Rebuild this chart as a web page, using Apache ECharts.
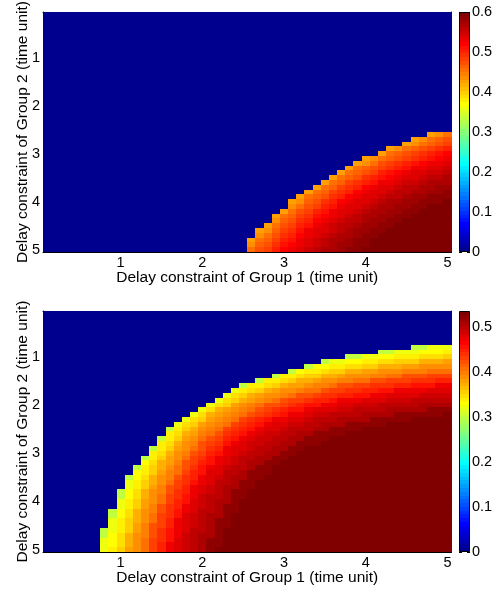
<!DOCTYPE html>
<html><head><meta charset="utf-8">
<script src="https://cdn.jsdelivr.net/npm/echarts@6/dist/echarts.min.js"></script>
<style>html,body{margin:0;padding:0;background:#fff}#c{width:501px;height:592px}</style>
</head><body><div id="c"></div>
<script>
// ---------- data ----------
const cellCenters = [0.1,0.2,0.3,0.4,0.5,0.6,0.7,0.8,0.9,1.0,1.1,1.2,1.3,1.4,1.5,1.6,1.7,1.8,1.9,2.0,2.1,2.2,2.3,2.4,2.5,2.6,2.7,2.8,2.9,3.0,3.1,3.2,3.3,3.4,3.5,3.6,3.7,3.8,3.9,4.0,4.1,4.2,4.3,4.4,4.5,4.6,4.7,4.8,4.9,5.0];
const xTickLabels = [1,2,3,4,5];
const yTickLabels = [1,2,3,4,5];
const xTitle = 'Delay constraint of Group 1 (time unit)';
const yTitle = 'Delay constraint of Group 2 (time unit)';
const cbTicks1 = [0,0.1,0.2,0.3,0.4,0.5,0.6];
const cbMax1 = 0.6;
const cbTicks2 = [0,0.1,0.2,0.3,0.4,0.5];
const cbMax2 = 0.536;

// Chart 1: rows (Group-2 delay), first non-zero cell (Group-1 delay), values in hundredths
// from that cell rightwards; the last listed value holds to the right edge. Cells left are 0.
const rowY1 = [2.6,2.7,2.8,2.9,3.0,3.1,3.2,3.3,3.4,3.5,3.6,3.7,3.8,3.9,4.0,4.1,4.2,4.3,4.4,4.5,4.6,4.7,4.8,4.9,5.0];
const startX1 = [4.8,4.6,4.5,4.3,4.2,4.0,3.9,3.8,3.7,3.6,3.5,3.4,3.3,3.2,3.1,3.1,3.0,2.9,2.9,2.8,2.7,2.7,2.6,2.6,2.6];
const vals1 = [
[43,44,45],
[43,44,45,46,47],
[43,44,45,46,47,48],
[43,44,45,46,47,48,49,50],
[43,45,46,47,48,49,50,51,52],
[43,44,45,46,47,48,49,50,51,52,53],
[43,44,45,47,48,49,50,51,52,53,53,54],
[43,45,46,47,48,49,50,51,53,53,54,54,55],
[43,45,46,47,48,50,51,52,53,54,54,55,55,56],
[43,45,46,47,49,50,51,52,53,54,54,55,56,56,57],
[43,45,46,48,49,50,51,53,53,54,55,55,56,57,57,57],
[43,45,46,48,49,50,52,53,54,54,55,56,56,57,57,58,58],
[43,45,46,48,49,50,52,53,54,54,55,56,56,57,57,58,58,59],
[43,45,46,47,49,50,52,53,54,54,55,56,56,57,58,58,59,59,59],
[43,44,46,47,49,50,52,53,54,54,55,56,57,57,58,58,59,59,59,60],
[44,45,47,48,50,51,53,54,54,55,56,57,57,58,58,59,59,60],
[43,45,47,48,50,51,53,54,54,55,56,57,57,58,58,59,59,60],
[43,45,46,48,49,51,52,53,54,55,56,57,57,58,58,59,59,60],
[44,46,47,49,50,52,53,54,55,56,56,57,58,58,59,59,60],
[43,45,47,48,50,51,53,54,55,56,56,57,58,58,59,59,60],
[43,44,46,48,49,51,53,54,54,55,56,57,58,58,59,59,60],
[44,45,47,49,50,52,53,54,55,56,57,57,58,59,59,60],
[43,45,46,48,50,51,53,54,55,56,57,57,58,59,59,60],
[44,46,47,49,51,52,53,54,55,56,57,58,58,59,59,60],
[45,47,48,50,52,53,54,55,56,57,57,58,59,59,60]
];

// Chart 2
const rowY2 = [0.8,0.9,1.0,1.1,1.2,1.3,1.4,1.5,1.6,1.7,1.8,1.9,2.0,2.1,2.2,2.3,2.4,2.5,2.6,2.7,2.8,2.9,3.0,3.1,3.2,3.3,3.4,3.5,3.6,3.7,3.8,3.9,4.0,4.1,4.2,4.3,4.4,4.5,4.6,4.7,4.8,4.9,5.0];
const startX2 = [4.6,4.2,3.8,3.5,3.3,3.1,2.9,2.7,2.5,2.4,2.3,2.2,2.1,2.0,1.9,1.8,1.7,1.6,1.6,1.5,1.5,1.4,1.4,1.3,1.3,1.2,1.2,1.1,1.1,1.1,1.0,1.0,1.0,1.0,0.9,0.9,0.9,0.9,0.8,0.8,0.8,0.8,0.8];
const vals2 = [
[30,30,32,32,32],
[30,30,32,32,32,33,33,33,34],
[30,30,32,32,33,33,34,34,34,35,35,35,36],
[30,32,32,33,33,34,34,35,35,36,36,36,37,37,37,38],
[30,33,33,34,34,35,35,36,36,37,37,37,38,38,39,39,39,39],
[30,33,34,34,35,36,36,37,37,38,38,39,39,39,40,40,40,41,41,41],
[30,34,34,35,36,36,37,37,38,39,39,39,40,40,41,41,42,42,42,43,43,43],
[30,34,34,35,36,37,37,38,39,39,40,40,41,41,42,42,43,43,43,44,44,44,45,45],
[30,34,34,35,36,37,38,38,39,40,40,41,42,42,43,43,44,44,44,45,45,46,46,46,47,47],
[32,34,35,36,37,38,39,39,40,41,41,42,43,43,44,44,45,45,46,46,47,47,47,47,48,48,48],
[32,35,36,37,38,39,39,40,41,42,42,43,44,44,45,45,46,46,47,47,48,48,48,48,49,49,49,49],
[32,35,36,37,38,39,40,41,42,43,43,44,45,45,46,47,47,47,48,48,48,49,49,49,50,50,50,50,50],
[32,35,36,38,39,40,41,42,42,43,44,45,46,46,47,47,48,48,49,49,49,50,50,50,50,50,51,51,51,51],
[32,35,37,38,39,40,41,42,43,44,45,46,46,47,48,48,48,49,49,50,50,50,50,51,51,51,51,51,52,52,52],
[32,35,37,38,39,40,41,42,43,44,45,46,47,47,48,49,49,50,50,50,50,51,51,51,51,52,52,52,52,52,52,53],
[32,35,36,38,39,40,41,43,44,45,46,47,47,48,48,49,50,50,50,51,51,51,51,52,52,52,52,52,53,53,53,53,53],
[32,35,36,38,39,40,41,43,44,45,46,47,48,48,49,49,50,50,51,51,51,52,52,52,52,52,53,53,53,53,53,53,54,54],
[30,34,36,37,39,40,41,43,44,45,46,47,48,48,49,50,50,50,51,51,52,52,52,52,53,53,53,53,53,54],
[34,35,37,38,40,41,42,44,45,46,47,48,49,49,50,50,51,51,52,52,52,52,53,53,53,53,53,54],
[30,34,36,38,39,41,42,43,45,46,47,48,49,49,50,50,51,51,52,52,52,53,53,53,53,54],
[34,35,37,39,40,42,43,44,46,47,48,49,49,50,50,51,51,52,52,52,53,53,53,54],
[30,34,36,38,39,41,42,44,45,47,48,48,49,50,50,51,51,52,52,53,53,53,53,54],
[34,35,37,39,40,42,43,45,46,47,48,49,50,50,51,51,52,52,53,53,53,54],
[30,34,36,38,39,41,43,44,46,47,48,49,50,50,51,51,52,52,53,53,53,54],
[33,35,37,38,40,42,43,45,46,47,48,49,50,51,51,52,52,53,53,53,54],
[30,34,36,37,39,41,42,44,46,47,48,49,50,50,51,52,52,53,53,53,54],
[33,34,36,38,40,41,43,45,46,48,48,50,50,51,52,52,52,53,53,54],
[30,33,35,37,39,40,42,44,45,47,48,49,50,51,51,52,52,53,53,54],
[32,34,36,37,39,41,43,44,46,47,48,50,50,51,52,52,53,53,53,54],
[32,34,36,38,40,42,43,45,47,48,49,50,51,51,52,52,53,53,54],
[30,33,35,37,39,40,42,44,45,47,48,49,50,51,52,52,53,53,54],
[30,33,35,37,39,41,43,44,46,47,49,50,50,51,52,52,53,53,54],
[32,34,36,38,39,41,43,45,46,48,49,50,51,51,52,53,53,54],
[32,34,36,38,40,42,44,45,47,48,49,50,51,52,52,53,53,54],
[30,33,35,37,39,40,42,44,46,47,48,50,50,51,52,52,53,53,54],
[30,33,35,37,39,41,43,44,46,48,49,50,51,51,52,53,53,54],
[32,34,36,37,39,41,43,45,47,48,49,50,51,52,52,53,53,54],
[32,34,36,38,40,42,43,45,47,48,49,50,51,52,52,53,54],
[30,32,34,36,38,40,42,44,46,47,48,50,50,51,52,53,53,54],
[30,33,35,37,39,40,42,44,46,47,49,50,51,51,52,53,53,54],
[32,33,35,37,39,41,43,44,46,48,49,50,51,52,52,53,53,54],
[32,33,35,37,39,41,43,45,47,48,49,50,51,52,52,53,54],
[32,34,36,38,39,41,43,45,47,48,49,50,51,52,53,53,54]
];

// ---------- build ----------
const FONT = 'Liberation Sans, Arial, Helvetica, sans-serif';
const near = (a, b) => Math.abs(a - b) < 1e-6;
function buildCells(rowY, startX, vals) {
  const data = [];
  for (let yi = 0; yi < cellCenters.length; yi++) {
    const k = rowY.findIndex(y => near(y, cellCenters[yi]));
    for (let xi = 0; xi < cellCenters.length; xi++) {
      let v = 0;
      if (k >= 0) {
        const s = cellCenters.findIndex(c => near(c, startX[k]));
        if (xi >= s) { const row = vals[k]; v = row[Math.min(xi - s, row.length - 1)] / 100; }
      }
      data.push([xi, yi, v]);
    }
  }
  return data;
}
function jet64() {
  const m = 64, n = 16, u = [];
  for (let i = 1; i <= n; i++) u.push(i / n);
  for (let i = 0; i < n - 1; i++) u.push(1);
  for (let i = n; i >= 1; i--) u.push(i / n);
  const J = Array.from({length: m}, () => [0, 0, 0]);
  for (let k = 1; k <= u.length; k++) {
    const g = 8 + k, r = g + n, b = g - n;
    if (g >= 1 && g <= m) J[g - 1][1] = u[k - 1];
    if (r >= 1 && r <= m) J[r - 1][0] = u[k - 1];
    if (b >= 1 && b <= m) J[b - 1][2] = u[k - 1];
  }
  return J.map(c => 'rgb(' + c.map(x => Math.round(x * 255)).join(',') + ')');
}
const JET = jet64();
function pieces(cmax) {
  const w = cmax / 64;
  return JET.map((c, i) => {
    const p = {color: c};
    if (i > 0) p.gte = i * w;
    if (i < 63) p.lt = (i + 1) * w;
    return p;
  });
}
function cbGradient() {
  const stops = [];
  JET.forEach((c, i) => { stops.push({offset: i / 64, color: c}); stops.push({offset: (i + 1) / 64, color: c}); });
  return new echarts.graphic.LinearGradient(0, 1, 0, 0, stops);
}
function renderCell(params, api) {
  const c = api.coord([api.value(0), api.value(1)]);
  const s = api.size([1, 1]);
  const x0 = Math.round(c[0] - s[0] / 2), x1 = Math.round(c[0] + s[0] / 2);
  const y0 = Math.round(c[1] - s[1] / 2), y1 = Math.round(c[1] + s[1] / 2);
  return {type: 'rect', shape: {x: x0, y: y0, width: x1 - x0, height: y1 - y0},
    style: {fill: api.visual('color'), stroke: null}};
}

const grid = [], xAxis = [], yAxis = [], series = [], visualMap = [];
const cats = cellCenters.map(v => v.toFixed(1));
const isX = (i, v) => xTickLabels.some(t => near(t, Number(v)));
const isY = (i, v) => yTickLabels.some(t => near(t, Number(v)));
const lbl = {fontSize: 14.5, color: '#000', fontFamily: FONT};
const nameStyle = {fontSize: 15.5, color: '#000', fontFamily: FONT};
const line = {show: true, onZero: false, lineStyle: {color: '#000', width: 1}};

function panel(top, height, data, cmax, cbTicks) {
  const gi = grid.length;
  grid.push({left: 43, top: top, width: 408.5, height: height, containLabel: false, outerBoundsMode: 'none'});
  grid.push({left: 459, top: top, width: 11, height: height, containLabel: false, outerBoundsMode: 'none'});
  const xa = xAxis.length, ya = yAxis.length;
  const tick = (fn) => ({show: true, inside: true, length: 4, alignWithLabel: true, interval: fn, lineStyle: {color: '#000', width: 1}});
  xAxis.push({type: 'category', gridIndex: gi, data: cats, position: 'bottom', axisLine: line, axisTick: tick(isX),
    axisLabel: Object.assign({show: true, interval: isX, margin: 3.5, formatter: v => String(Number(v))}, lbl),
    splitLine: {show: false}, name: xTitle, nameLocation: 'middle', nameGap: 18, nameMoveOverlap: false, nameTextStyle: nameStyle});
  xAxis.push({type: 'category', gridIndex: gi, data: cats, position: 'top', axisLine: line, axisTick: tick(isX),
    axisLabel: {show: false}, splitLine: {show: false}});
  xAxis.push({type: 'category', gridIndex: gi + 1, data: ['c'], show: false});
  yAxis.push({type: 'category', gridIndex: gi, data: cats, inverse: true, position: 'left', axisLine: line, axisTick: tick(isY),
    axisLabel: Object.assign({show: true, interval: isY, margin: 3, formatter: v => String(Number(v))}, lbl),
    splitLine: {show: false}, name: yTitle, nameLocation: 'middle', nameGap: 12, nameRotate: 90, nameMoveOverlap: false, nameTextStyle: nameStyle});
  yAxis.push({type: 'category', gridIndex: gi, data: cats, inverse: true, position: 'right', axisLine: line, axisTick: tick(isY),
    axisLabel: {show: false}, splitLine: {show: false}});
  yAxis.push({type: 'value', gridIndex: gi + 1, min: 0, max: cmax, position: 'left', axisLine: {show: false},
    axisTick: {show: true, inside: true, length: 3, customValues: cbTicks, lineStyle: {color: '#000'}},
    axisLabel: {show: false}, splitLine: {show: false}});
  yAxis.push({type: 'value', gridIndex: gi + 1, min: 0, max: cmax, position: 'right', axisLine: {show: false},
    axisTick: {show: true, inside: true, length: 3, customValues: cbTicks, lineStyle: {color: '#000'}},
    axisLabel: Object.assign({show: true, margin: 2, customValues: cbTicks, formatter: v => String(v)}, lbl),
    splitLine: {show: false}});
  const si = series.length;
  series.push({type: 'custom', xAxisIndex: xa, yAxisIndex: ya, data: data, encode: {x: 0, y: 1},
    renderItem: renderCell, progressive: 0, silent: true, animation: false, z: 1});
  series.push({type: 'bar', xAxisIndex: xa + 2, yAxisIndex: ya + 3, data: [cmax], barWidth: '100%', silent: true, animation: false,
    itemStyle: {color: cbGradient(), borderColor: '#000', borderWidth: 1}});
  visualMap.push({type: 'piecewise', show: false, seriesIndex: si, dimension: 2, pieces: pieces(cmax)});
}

panel(12, 240, buildCells(rowY1, startX1, vals1), cbMax1, cbTicks1);
panel(311, 241, buildCells(rowY2, startX2, vals2), cbMax2, cbTicks2);

const chart = echarts.init(document.getElementById('c'), null, {renderer: 'canvas'});
chart.setOption({animation: false, backgroundColor: '#fff', grid, xAxis, yAxis, visualMap, series});
</script></body></html>
